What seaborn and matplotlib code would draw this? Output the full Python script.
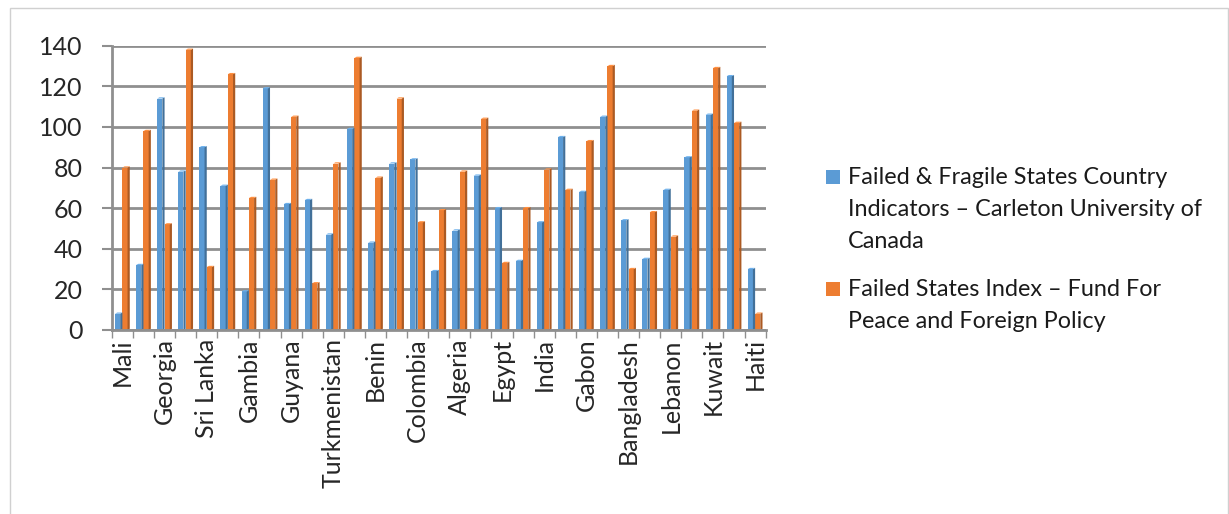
import matplotlib
matplotlib.use("Agg")
import matplotlib.pyplot as plt
from matplotlib.patches import Rectangle, Polygon
import matplotlib.colors as mcolors
import numpy as np
import pandas as pd
import seaborn as sns

# Country labels (every other category carries a visible label)
tick_labels = ["Mali", "", "Georgia", "", "Sri Lanka", "", "Gambia", "", "Guyana", "",
               "Turkmenistan", "", "Benin", "", "Colombia", "", "Algeria", "", "Egypt", "",
               "India", "", "Gabon", "", "Bangladesh", "", "Lebanon", "", "Kuwait", "", "Haiti"]

series_names = ["Failed & Fragile States Country Indicators \u2013 Carleton University of Canada",
                "Failed States Index \u2013 Fund For Peace and Foreign Policy"]
legend_lines = [["Failed & Fragile States Country", "Indicators \u2013 Carleton University of", "Canada"],
                ["Failed States Index \u2013 Fund For", "Peace and Foreign Policy"]]

carleton = [8, 32, 114, 78, 90, 71, 19, 119, 62, 64, 47, 99, 43, 82, 84, 29,
            49, 76, 60, 34, 53, 95, 68, 105, 54, 35, 69, 85, 106, 125, 30]
fsi = [80, 98, 52, 138, 31, 126, 65, 74, 105, 23, 82, 134, 75, 114, 53, 59,
       78, 104, 33, 60, 79, 69, 93, 130, 30, 58, 46, 108, 129, 102, 8]

y_ticks = [0, 20, 40, 60, 80, 100, 120, 140]

colors = ["#5B9BD5", "#ED7D31"]

n = len(carleton)
df = pd.DataFrame({
    "pos": list(range(n)) * 2,
    "series": [series_names[0]] * n + [series_names[1]] * n,
    "value": carleton + fsi,
})

sns.set_theme(style="white")
plt.rcParams["font.family"] = ["Lato", "DejaVu Sans"]

W, H = 1229, 514
fig = plt.figure(figsize=(W / 100, H / 100), dpi=100)
ax = fig.add_axes([0.091, 0.358, 0.532, 0.553])

sns.barplot(data=df, x="pos", y="value", hue="series", order=list(range(n)),
            hue_order=series_names, palette=colors, width=0.7, dodge=True,
            saturation=1, ax=ax, legend=False, errorbar=None)

# Give each bar a darker right-hand face and a lighter top for a shallow 3D look
for patch in list(ax.patches):
    if not isinstance(patch, Rectangle) or patch.get_height() <= 0:
        continue
    x, y0 = patch.get_x(), patch.get_y()
    w, h = patch.get_width(), patch.get_height()
    base = mcolors.to_rgb(patch.get_facecolor())
    dark = tuple(c * 0.72 for c in base)
    front_w = w * 0.7
    side_w = w - front_w
    patch.set_width(front_w)
    patch.set_edgecolor("none")
    ax.add_patch(Polygon([(x + front_w, y0), (x + w, y0 + 0.6), (x + w, y0 + h + 0.6),
                          (x + front_w, y0 + h)], closed=True, facecolor=dark,
                         edgecolor="none", zorder=patch.get_zorder()))
    ax.add_patch(Polygon([(x, y0 + h), (x + front_w, y0 + h), (x + w, y0 + h + 0.6),
                          (x + side_w, y0 + h + 0.6)], closed=True,
                         facecolor=tuple(min(1, c * 1.05 + 0.05) for c in base),
                         edgecolor="none", zorder=patch.get_zorder()))

ax.set_ylim(0, 140)
ax.set_xlim(-0.5, n - 0.5)
ax.set_yticks(y_ticks)
ax.set_yticklabels([str(v) for v in y_ticks], fontsize=18)
ax.yaxis.grid(True, color="#8f8f8f", linewidth=2.0)
ax.set_axisbelow(True)

ax.set_xticks(range(n))
ax.set_xticklabels(tick_labels, rotation=90, fontsize=18)
ax.set_xticks(np.arange(-0.5, n, 1.0), minor=True)
ax.tick_params(axis="x", which="major", length=0, pad=6)
ax.tick_params(axis="x", which="minor", length=6, color="#8f8f8f", width=1, bottom=True)
ax.tick_params(axis="y", length=7, color="#8f8f8f", width=1.5, left=True, pad=14)

ax.set_xlabel("")
ax.set_ylabel("")
for side in ["top", "right"]:
    ax.spines[side].set_visible(False)
for side in ["left", "bottom"]:
    ax.spines[side].set_color("#8f8f8f")
    ax.spines[side].set_linewidth(2.0)

# Legend: square swatch aligned with the first line of each wrapped entry
entry_tops = [177, 289]
for color, lines, top in zip(colors, legend_lines, entry_tops):
    fig.patches.append(Rectangle((826 / W, 1 - (top + 7) / H), 14 / W, 14 / H,
                                 transform=fig.transFigure, facecolor=color,
                                 edgecolor="none"))
    for k, line in enumerate(lines):
        fig.text(848 / W, 1 - (top + 32 * k) / H, line, fontsize=16.8,
                 va="center", ha="left", color="#1a1a1a")

# Chart area border
fig.patches.append(Rectangle((0.008, -0.01), 0.991, 0.995, transform=fig.transFigure,
                             fill=False, edgecolor="#d0d0d0", linewidth=1.0))

fig.savefig("out.png", dpi=100, facecolor="white")
